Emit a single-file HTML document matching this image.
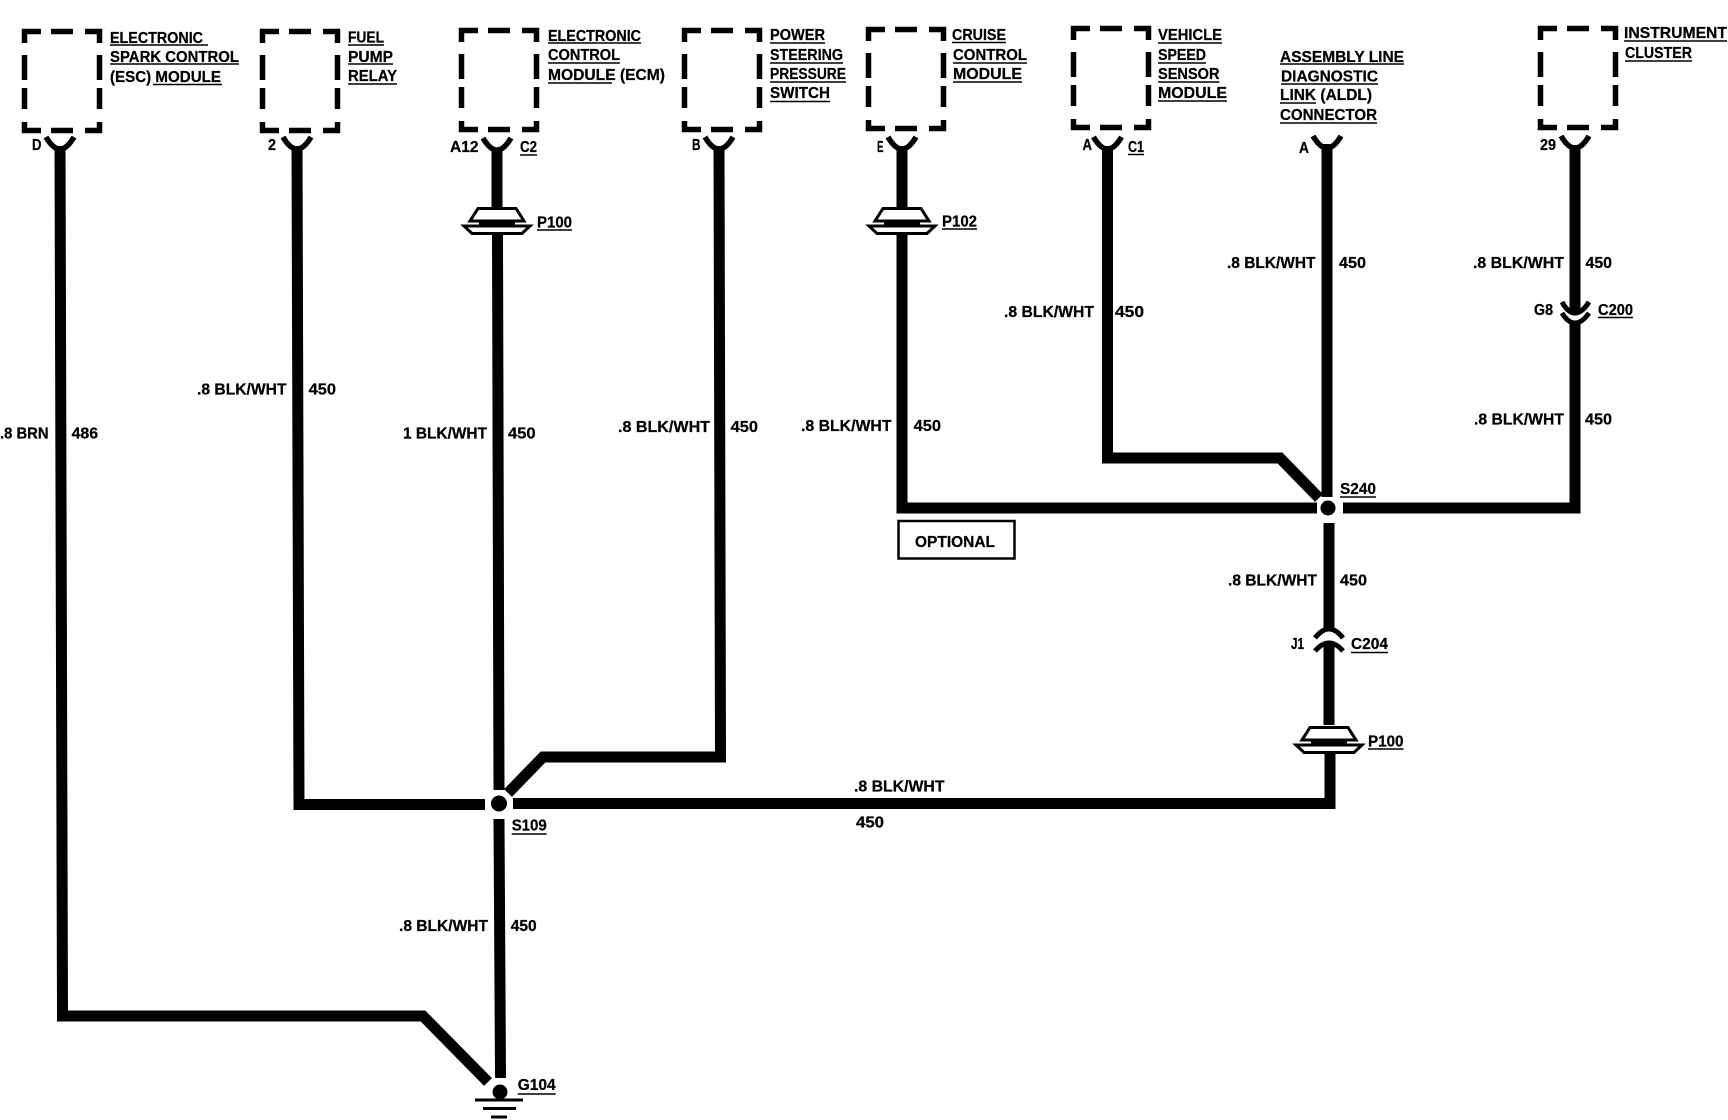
<!DOCTYPE html>
<html lang="en">
<head>
<meta charset="utf-8">
<title>Wiring diagram</title>
<style>
html,body{margin:0;padding:0;background:#fff}
svg{display:block}
text{font-family:"Liberation Sans",sans-serif;font-size:16px;font-weight:bold;fill:#000;stroke:#000;stroke-width:.25}
</style>
</head>
<body>
<svg width="1728" height="1120" viewBox="0 0 1728 1120" xmlns="http://www.w3.org/2000/svg">
<defs>
<g id="box" fill="none" stroke="#000" stroke-width="5.5">
<path d="M2.5,14V2.5H19M29,2.5H51M63,2.5H77.5V14M2.5,26V51M77.5,26V51M2.5,59V80M77.5,59V80M2.5,93V101.5H19M29,101.5H51M63,101.5H77.5V93"/>
</g>
<path id="y" fill="none" stroke="#000" stroke-width="5.5" d="M-14,137Q-7,149 0,149Q7,149 14,137"/>
<g id="p" fill="#fff" stroke="#000" stroke-width="3">
<path d="M-19,1.5H19L27,14H-27Z"/>
<path d="M-18,14H18V19H-18Z" fill="#000" stroke="none"/>
<path d="M-33,19H33L25,26.5H-25Z"/>
</g>
</defs>
<rect width="1728" height="1120" fill="#fff"/>

<use href="#box" x="22" y="29"/>
<use href="#box" x="260" y="29"/>
<use href="#box" x="459" y="28"/>
<use href="#box" x="682" y="28"/>
<use href="#box" x="866" y="27"/>
<use href="#box" x="1071" y="26"/>
<use href="#box" x="1538" y="26"/>

<use href="#y" x="60"/>
<use href="#y" x="297"/>
<use href="#y" x="497" y="1"/>
<use href="#y" x="719"/>
<use href="#y" x="902"/>
<use href="#y" x="1107.5"/>
<use href="#y" x="1327" y="-1"/>
<use href="#y" x="1575" y="-1"/>

<g fill="none" stroke="#000" stroke-width="11" stroke-miterlimit="10">
<path d="M60,146L62.5,1016H423L488,1082"/>
<path d="M297,146L299,804.5H485"/>
<path d="M497,148V207"/>
<path d="M497.5,234L499,790"/>
<path d="M513,803.5H1330V753"/>
<path d="M1329,523V630"/>
<path d="M1329,643V725"/>
<path d="M902,146V207"/>
<path d="M902,233V508H1317"/>
<path d="M1107.5,146V458H1280L1319,498"/>
<path d="M1327,144V497"/>
<path d="M1343,508H1575V322"/>
<path d="M1575,145V313"/>
<path d="M719,146L720.5,757H543L508,793"/>
<path d="M499,819L500.5,1078"/>
</g>

<circle cx="499" cy="803.5" r="8"/>
<circle cx="1328" cy="508" r="7.5"/>
<circle cx="500" cy="1092" r="7.5"/>
<g stroke="#000" stroke-width="3" fill="none">
<path d="M475,1100H523M483,1108.5H516M491,1117H507"/>
</g>

<use href="#p" x="497" y="207"/>
<use href="#p" x="902" y="207"/>
<use href="#p" x="1329" y="726"/>

<g fill="none" stroke="#000" stroke-width="5">
<path d="M1315,638Q1322,629 1329,629Q1336,629 1343,638"/>
<path d="M1315,651Q1322,643 1329,643Q1336,643 1343,651"/>
<path d="M1562,302Q1568,313 1575,313Q1582,313 1589,302"/>
<path d="M1562,313Q1568,323 1575,323Q1582,323 1589,313"/>
</g>

<rect x="898.5" y="521" width="116" height="37.5" fill="#fff" stroke="#000" stroke-width="2.5"/>
<text x="915" y="547" textLength="80" lengthAdjust="spacingAndGlyphs">OPTIONAL</text>

<path fill="none" stroke="#000" stroke-width="1.5" d="
M110,45H208M110,64H239M153,84.5H222
M348,45H384M348,64H393M348,84H397
M548,43H641M548,63H620M548,83H612
M770,43H825M770,63H843M770,82H846M770,101.5H830
M952,42.5H1006M953,63H1027M953,82H1022
M1158,43H1222M1158,63H1206M1158,82H1219.5M1158,101H1227
M1280,64H1404M1281,84H1378M1280,103H1316M1280,123H1377
M1624,41H1727M1625,61H1692
M520,155H537M537,230H572M942,229H977M1128,154.5H1144
M1598,317.5H1633M1351,652.5H1388M1368,749H1403.5M1340,497H1376
M511.7,834H546.7M517.7,1094H555.7"/>

<text x="110" y="43" textLength="93" lengthAdjust="spacingAndGlyphs">ELECTRONIC</text>
<text x="110" y="62" textLength="129" lengthAdjust="spacingAndGlyphs">SPARK CONTROL</text>
<text x="110" y="82" textLength="111" lengthAdjust="spacingAndGlyphs">(ESC) MODULE</text>
<text x="348" y="42.5" textLength="36" lengthAdjust="spacingAndGlyphs">FUEL</text>
<text x="348" y="62" textLength="45" lengthAdjust="spacingAndGlyphs">PUMP</text>
<text x="348" y="81" textLength="49" lengthAdjust="spacingAndGlyphs">RELAY</text>
<text x="548" y="41" textLength="93" lengthAdjust="spacingAndGlyphs">ELECTRONIC</text>
<text x="548" y="60" textLength="72" lengthAdjust="spacingAndGlyphs">CONTROL</text>
<text x="548" y="80" textLength="117" lengthAdjust="spacingAndGlyphs">MODULE (ECM)</text>
<text x="770" y="40" textLength="55" lengthAdjust="spacingAndGlyphs">POWER</text>
<text x="770" y="60" textLength="73" lengthAdjust="spacingAndGlyphs">STEERING</text>
<text x="770" y="79" textLength="76" lengthAdjust="spacingAndGlyphs">PRESSURE</text>
<text x="770" y="98" textLength="60" lengthAdjust="spacingAndGlyphs">SWITCH</text>
<text x="952" y="40" textLength="54" lengthAdjust="spacingAndGlyphs">CRUISE</text>
<text x="953" y="60" textLength="74" lengthAdjust="spacingAndGlyphs">CONTROL</text>
<text x="953" y="79" textLength="69" lengthAdjust="spacingAndGlyphs">MODULE</text>
<text x="1158" y="40" textLength="64" lengthAdjust="spacingAndGlyphs">VEHICLE</text>
<text x="1158" y="60" textLength="48" lengthAdjust="spacingAndGlyphs">SPEED</text>
<text x="1158" y="79" textLength="61.5" lengthAdjust="spacingAndGlyphs">SENSOR</text>
<text x="1158" y="98" textLength="69" lengthAdjust="spacingAndGlyphs">MODULE</text>
<text x="1280" y="62" textLength="124" lengthAdjust="spacingAndGlyphs">ASSEMBLY LINE</text>
<text x="1281" y="81.5" textLength="97" lengthAdjust="spacingAndGlyphs">DIAGNOSTIC</text>
<text x="1280" y="100" textLength="92" lengthAdjust="spacingAndGlyphs">LINK (ALDL)</text>
<text x="1280" y="120" textLength="97" lengthAdjust="spacingAndGlyphs">CONNECTOR</text>
<text x="1624" y="38" textLength="103" lengthAdjust="spacingAndGlyphs">INSTRUMENT</text>
<text x="1625" y="58" textLength="67" lengthAdjust="spacingAndGlyphs">CLUSTER</text>

<text x="32" y="150" textLength="9.5" lengthAdjust="spacingAndGlyphs">D</text>
<text x="268" y="150" textLength="8" lengthAdjust="spacingAndGlyphs">2</text>
<text x="450" y="152" textLength="28.5" lengthAdjust="spacingAndGlyphs">A12</text>
<text x="520" y="152" textLength="17" lengthAdjust="spacingAndGlyphs">C2</text>
<text x="537" y="227.5" textLength="35" lengthAdjust="spacingAndGlyphs">P100</text>
<text x="692" y="150" textLength="8.5" lengthAdjust="spacingAndGlyphs">B</text>
<text x="877" y="152" textLength="6.5" lengthAdjust="spacingAndGlyphs">E</text>
<text x="942" y="226.5" textLength="35" lengthAdjust="spacingAndGlyphs">P102</text>
<text x="1082.5" y="150" textLength="9.5" lengthAdjust="spacingAndGlyphs">A</text>
<text x="1128" y="152" textLength="16" lengthAdjust="spacingAndGlyphs">C1</text>
<text x="1299" y="153" textLength="10" lengthAdjust="spacingAndGlyphs">A</text>
<text x="1540" y="150" textLength="16" lengthAdjust="spacingAndGlyphs">29</text>
<text x="1534" y="315" textLength="19" lengthAdjust="spacingAndGlyphs">G8</text>
<text x="1598" y="315" textLength="35" lengthAdjust="spacingAndGlyphs">C200</text>
<text x="1291" y="649" textLength="13" lengthAdjust="spacingAndGlyphs">J1</text>
<text x="1351" y="649" textLength="37" lengthAdjust="spacingAndGlyphs">C204</text>
<text x="1368" y="746.5" textLength="35.5" lengthAdjust="spacingAndGlyphs">P100</text>
<text x="1340" y="494" textLength="36" lengthAdjust="spacingAndGlyphs">S240</text>
<text x="511.7" y="830.5" textLength="35" lengthAdjust="spacingAndGlyphs">S109</text>
<text x="517.7" y="1090" textLength="38" lengthAdjust="spacingAndGlyphs">G104</text>

<text x="0" y="438.5" textLength="48.5" lengthAdjust="spacingAndGlyphs">.8 BRN</text>
<text x="71.6" y="438.5" textLength="26.5" lengthAdjust="spacingAndGlyphs">486</text>
<text x="197" y="394.5" textLength="89.5" lengthAdjust="spacingAndGlyphs">.8 BLK/WHT</text>
<text x="308.6" y="394.5" textLength="27.4" lengthAdjust="spacingAndGlyphs">450</text>
<text x="403" y="438.5" textLength="84" lengthAdjust="spacingAndGlyphs">1 BLK/WHT</text>
<text x="508" y="438.5" textLength="27.6" lengthAdjust="spacingAndGlyphs">450</text>
<text x="618" y="432" textLength="92" lengthAdjust="spacingAndGlyphs">.8 BLK/WHT</text>
<text x="730.6" y="432" textLength="27.4" lengthAdjust="spacingAndGlyphs">450</text>
<text x="801" y="431" textLength="90.5" lengthAdjust="spacingAndGlyphs">.8 BLK/WHT</text>
<text x="913.6" y="431" textLength="27.4" lengthAdjust="spacingAndGlyphs">450</text>
<text x="1004" y="317" textLength="90" lengthAdjust="spacingAndGlyphs">.8 BLK/WHT</text>
<text x="1115" y="317" textLength="29" lengthAdjust="spacingAndGlyphs">450</text>
<text x="1227" y="268" textLength="88.5" lengthAdjust="spacingAndGlyphs">.8 BLK/WHT</text>
<text x="1339" y="268" textLength="27" lengthAdjust="spacingAndGlyphs">450</text>
<text x="1473" y="268" textLength="91" lengthAdjust="spacingAndGlyphs">.8 BLK/WHT</text>
<text x="1585.5" y="268" textLength="26.5" lengthAdjust="spacingAndGlyphs">450</text>
<text x="1474" y="424.5" textLength="90" lengthAdjust="spacingAndGlyphs">.8 BLK/WHT</text>
<text x="1585" y="424.5" textLength="27" lengthAdjust="spacingAndGlyphs">450</text>
<text x="1228" y="585.5" textLength="89" lengthAdjust="spacingAndGlyphs">.8 BLK/WHT</text>
<text x="1340" y="585.5" textLength="27" lengthAdjust="spacingAndGlyphs">450</text>
<text x="854" y="791.5" textLength="90.5" lengthAdjust="spacingAndGlyphs">.8 BLK/WHT</text>
<text x="856" y="827.5" textLength="28" lengthAdjust="spacingAndGlyphs">450</text>
<text x="399" y="931" textLength="89" lengthAdjust="spacingAndGlyphs">.8 BLK/WHT</text>
<text x="510.7" y="931" textLength="26" lengthAdjust="spacingAndGlyphs">450</text>
</svg>
</body>
</html>
